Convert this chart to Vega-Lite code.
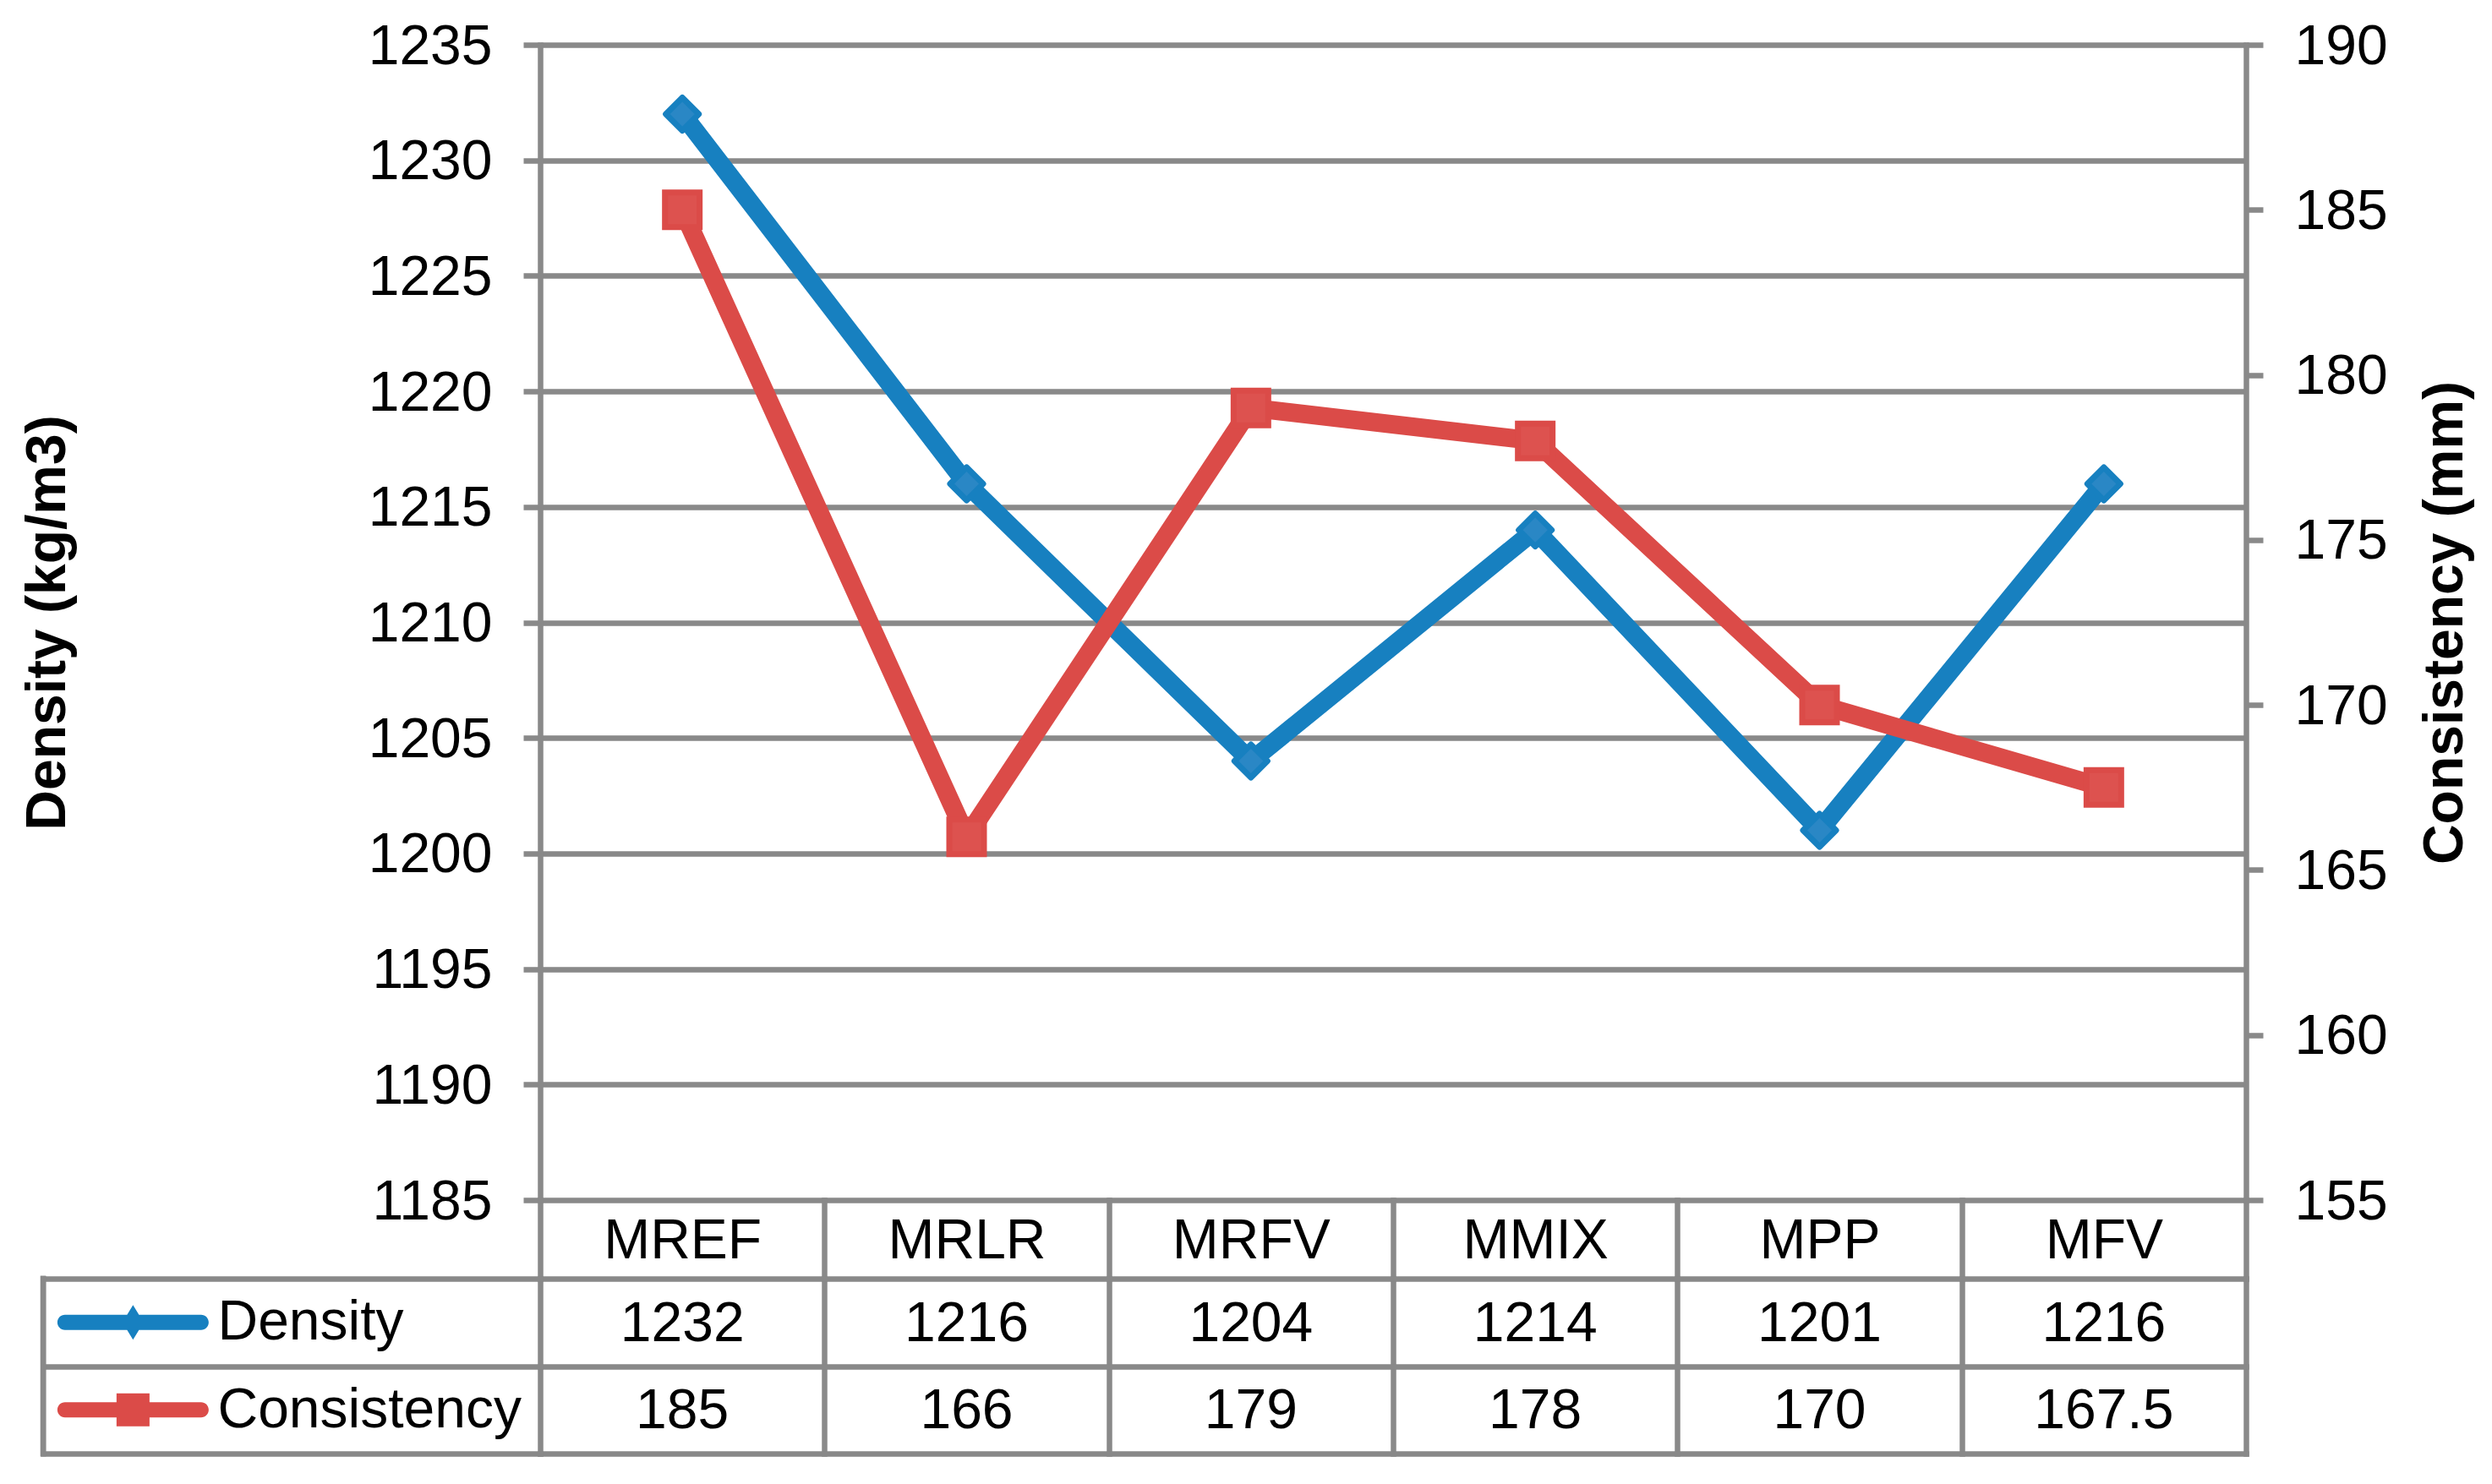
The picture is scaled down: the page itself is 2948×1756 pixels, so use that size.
{
  "$schema": "https://vega.github.io/schema/vega-lite/v6.json",
  "padding": {"left": 23, "top": 22, "right": 20, "bottom": 25},
  "background": "white",
  "config": {
    "view": {"stroke": null},
    "font": "Liberation Sans",
    "axis": {"labelFont": "Liberation Sans", "titleFont": "Liberation Sans"}
  },
  "datasets": {
    "main": [
      {"cat": "MREF", "Density": 1232, "Consistency": 185},
      {"cat": "MRLR", "Density": 1216, "Consistency": 166},
      {"cat": "MRFV", "Density": 1204, "Consistency": 179},
      {"cat": "MMIX", "Density": 1214, "Consistency": 178},
      {"cat": "MPP", "Density": 1201, "Consistency": 170},
      {"cat": "MFV", "Density": 1216, "Consistency": 167.5}
    ],
    "series": [
      {"series": "Density"},
      {"series": "Consistency"}
    ]
  },
  "bounds": "flush",
  "spacing": 93,
  "vconcat": [
    {
      "width": 2018,
      "height": 1367,
      "data": {"name": "main"},
      "encoding": {
        "x": {
          "field": "cat",
          "type": "nominal",
          "sort": null,
          "bandPosition": 0.5,
          "scale": {"type": "band", "domain": ["MREF", "MRLR", "MRFV", "MMIX", "MPP", "MFV"], "paddingInner": 0, "paddingOuter": 0},
          "axis": {
            "orient": "bottom",
            "title": null,
            "domain": false,
            "grid": false,
            "ticks": true,
            "tickBand": "extent",
            "tickSize": 93,
            "tickColor": "#898989",
            "tickWidth": 6.5,
            "tickCap": "square",
            "labelAngle": 0,
            "labelPadding": -25,
            "labelBaseline": "alphabetic",
            "labelFontSize": 66,
            "labelColor": "black",
            "labelLimit": 0,
            "labelOverlap": false
          }
        }
      },
      "layer": [
        {
          "encoding": {
            "y": {
              "field": "Density",
              "type": "quantitative",
              "scale": {"domain": [1185, 1235], "zero": false, "nice": false},
              "axis": {
                "orient": "left",
                "values": [1185, 1190, 1195, 1200, 1205, 1210, 1215, 1220, 1225, 1230, 1235],
                "format": "d",
                "grid": true,
                "gridColor": "#898989",
                "gridWidth": 6.5,
                "domain": true,
                "domainColor": "#898989",
                "domainWidth": 6.5,
                "domainCap": "square",
                "ticks": true,
                "tickSize": 20,
                "tickColor": "#898989",
                "tickWidth": 6.5,
                "labelPadding": 37,
                "labelFontSize": 66,
                "labelColor": "black",
                "labelOffset": 2,
                "labelOverlap": false,
                "labelLimit": 0,
                "title": "Density (kg/m3)",
                "titleFontSize": 66,
                "titleFontWeight": "bold",
                "titleColor": "black",
                "titleAngle": 270,
                "titleX": -562.5,
                "titleY": 683.5,
                "titleAlign": "center",
                "titleBaseline": "alphabetic"
              }
            }
          },
          "layer": [
            {"mark": {"type": "line", "color": "#1780c0", "strokeWidth": 22, "strokeJoin": "round", "strokeCap": "round"}},
            {"mark": {"type": "point", "shape": "M-1,0L0,-1L1,0L0,1Z", "filled": true, "fill": "#2a87c5", "stroke": "#1780c0", "strokeWidth": 7, "strokeJoin": "round", "size": 1521, "opacity": 1}}
          ]
        },
        {
          "encoding": {
            "y": {
              "field": "Consistency",
              "type": "quantitative",
              "scale": {"domain": [155, 190], "zero": false, "nice": false},
              "axis": {
                "orient": "right",
                "values": [155, 160, 165, 170, 175, 180, 185, 190],
                "format": "d",
                "grid": false,
                "domain": true,
                "domainColor": "#898989",
                "domainWidth": 6.5,
                "domainCap": "square",
                "ticks": true,
                "tickSize": 20,
                "tickColor": "#898989",
                "tickWidth": 6.5,
                "labelPadding": 37,
                "labelFontSize": 66,
                "labelColor": "black",
                "labelOffset": 2,
                "labelOverlap": false,
                "labelLimit": 0,
                "title": "Consistency (mm)",
                "titleFontSize": 66,
                "titleFontWeight": "bold",
                "titleColor": "black",
                "titleAngle": 270,
                "titleX": 255,
                "titleY": 683.5,
                "titleAlign": "center",
                "titleBaseline": "alphabetic"
              }
            }
          },
          "layer": [
            {"mark": {"type": "line", "color": "#db4b48", "strokeWidth": 22, "strokeJoin": "round", "strokeCap": "round"}},
            {"mark": {"type": "point", "shape": "square", "filled": true, "fill": "#dd524f", "stroke": "#db4b48", "strokeWidth": 7, "size": 1681, "opacity": 1}}
          ]
        }
      ],
      "resolve": {"scale": {"y": "independent"}}
    },
    {
      "width": 2018,
      "height": 207,
      "layer": [
        {
          "data": {"name": "main"},
          "transform": [{"fold": ["Density", "Consistency"], "as": ["key", "value"]}],
          "mark": {"type": "text", "fontSize": 66, "font": "Liberation Sans", "color": "black", "baseline": "middle", "align": "center", "dy": 2},
          "encoding": {
            "x": {
              "field": "cat",
              "type": "nominal",
              "sort": null,
              "scale": {"type": "band", "domain": ["MREF", "MRLR", "MRFV", "MMIX", "MPP", "MFV"], "paddingInner": 0, "paddingOuter": 0},
              "axis": {
                "orient": "bottom",
                "title": null,
                "domain": false,
                "ticks": false,
                "labels": false,
                "grid": true,
                "tickBand": "extent",
                "gridColor": "#898989",
                "gridWidth": 6.5,
                "gridCap": "square"
              }
            },
            "y": {
              "field": "key",
              "type": "nominal",
              "sort": null,
              "scale": {"type": "band", "domain": ["Density", "Consistency"], "paddingInner": 0, "paddingOuter": 0},
              "axis": {
                "orient": "left",
                "title": null,
                "domain": false,
                "grid": true,
                "gridColor": "#898989",
                "gridWidth": 6.5,
                "gridCap": "square",
                "tickBand": "extent",
                "ticks": true,
                "tickSize": 588,
                "tickColor": "#898989",
                "tickWidth": 6.5,
                "tickCap": "square",
                "labelAlign": "left",
                "labelBaseline": "middle",
                "labelPadding": -206,
                "labelFontSize": 66,
                "labelColor": "black",
                "labelLimit": 0,
                "labelOverlap": false
              }
            },
            "text": {"field": "value", "type": "nominal"}
          }
        },
        {
          "data": {"name": "series"},
          "mark": {"type": "rule", "color": "#898989", "strokeWidth": 6.5, "strokeCap": "square"},
          "encoding": {
            "x": {"datum": -1.748, "type": "quantitative", "scale": {"domain": [0, 6], "nice": false, "zero": false}, "axis": null}
          }
        },
        {
          "data": {"name": "series"},
          "mark": {"type": "point", "filled": true, "size": 32041, "opacity": 1, "strokeWidth": 0},
          "encoding": {
            "x": {"datum": -1.432, "type": "quantitative", "scale": {"domain": [0, 6], "nice": false, "zero": false}, "axis": null},
            "y": {"field": "series", "type": "nominal", "sort": null},
            "color": {"field": "series", "type": "nominal", "scale": {"domain": ["Density", "Consistency"], "range": ["#1780c0", "#db4b48"]}, "legend": null},
            "shape": {
              "field": "series",
              "type": "nominal",
              "scale": {
                "domain": ["Density", "Consistency"],
                "range": [
                  "M-0.9,-0.1A0.1,0.1 0 0 0 -0.9,0.1L0.9,0.1A0.1,0.1 0 0 0 0.9,-0.1Z M0,-0.23L-0.14,0L0,0.23L0.14,0Z",
                  "M-0.9,-0.1A0.1,0.1 0 0 0 -0.9,0.1L0.9,0.1A0.1,0.1 0 0 0 0.9,-0.1Z M-0.218,-0.218L-0.218,0.218L0.218,0.218L0.218,-0.218Z"
                ]
              },
              "legend": null
            }
          }
        }
      ],
      "resolve": {"scale": {"x": "independent"}}
    }
  ]
}
